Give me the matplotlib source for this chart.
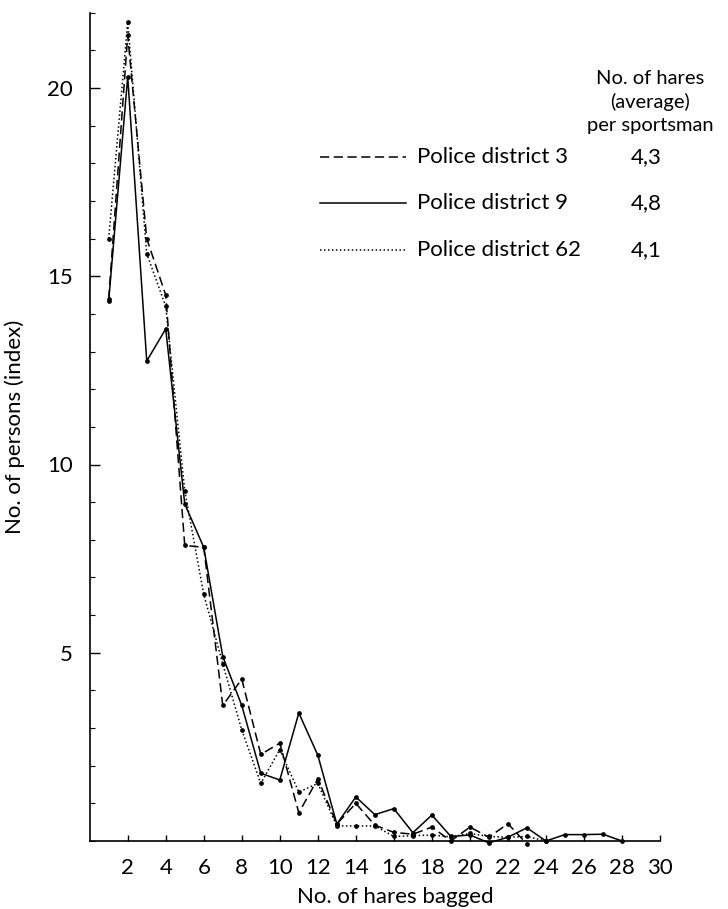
import numpy as np
import matplotlib.pyplot as plt
from matplotlib.lines import Line2D
from matplotlib.ticker import MultipleLocator

plt.rcParams['font.family'] = ['Lato', 'DejaVu Sans']

# Number of persons (index) by number of hares bagged
d3 = [14.4, 21.4, 16.0, 14.5, 7.85, 7.8, 3.6, 4.3, 2.3, 2.6, 0.75, 1.65, 0.45,
      1.0, 0.42, 0.23, 0.18, 0.37, 0.0, 0.37, 0.1, 0.46, -0.08]
d9 = [14.35, 20.3, 12.75, 13.6, 8.95, 7.8, 4.9, 3.6, 1.8, 1.62, 3.4, 2.28, 0.45,
      1.17, 0.7, 0.86, 0.22, 0.69, 0.12, 0.16, -0.05, 0.1, 0.35, 0.0, 0.17,
      0.17, 0.18, 0.0]
d62 = [16.0, 21.75, 15.6, 14.2, 9.3, 6.55, 4.7, 2.95, 1.53, 2.43, 1.3, 1.53, 0.4,
       0.4, 0.4, 0.12, 0.14, 0.16, 0.11, 0.2, 0.12, 0.1, 0.12, 0.0]

districts = ['Police district 3', 'Police district 9', 'Police district 62']
averages = ['4,3', '4,8', '4,1']
xticks = list(range(2, 31, 2))
yticks = [5, 10, 15, 20]

W, H = 728, 909
fig = plt.figure(figsize=(W / 100, H / 100), dpi=100)
ax = fig.add_axes([89.7 / W, 1 - 841 / H, (660 - 89.7) / W, (841 - 12.7) / H])

styles = [dict(linestyle=(0, (6, 3))), dict(linestyle='-'), dict(linestyle=(0, (1, 1.6)))]
series = [d3, d9, d62]
for vals, st in zip(series, styles):
    xs = np.arange(1, len(vals) + 1)
    ax.plot(xs, vals, color='black', lw=1.1, marker='o', markersize=2.4,
            clip_on=False, **st)

ax.set_xlim(0, 30)
ax.set_ylim(0, 22)
ax.spines['top'].set_visible(False)
ax.spines['right'].set_visible(False)
ax.spines['left'].set_linewidth(1.2)
ax.spines['bottom'].set_linewidth(1.2)

ax.set_xticks(xticks)
ax.set_xticklabels([str(t) for t in xticks])
ax.set_xticks([10, 20, 30], minor=True)
ax.set_yticks(yticks)
ax.set_yticklabels([str(t) for t in yticks])
ax.yaxis.set_minor_locator(MultipleLocator(1))
ax.tick_params(axis='both', which='major', direction='in', width=1,
               labelsize=16, pad=12)
ax.tick_params(axis='x', which='major', length=4)
ax.tick_params(axis='y', which='major', length=7)
ax.tick_params(axis='x', which='minor', direction='in', length=8, width=1.2)
ax.tick_params(axis='y', which='minor', direction='in', length=3.5, width=0.8)

ax.set_ylabel('No. of persons (index)', fontsize=16, labelpad=16)
fig.text(395 / W, 1 - 897 / H, 'No. of hares bagged', fontsize=16,
         ha='center', va='center')

# legend drawn by hand
fig.text(650 / W, 1 - 78 / H, 'No. of hares', fontsize=14.5, ha='center', va='center')
fig.text(650 / W, 1 - 102 / H, '(average)', fontsize=14.5, ha='center', va='center')
fig.text(650 / W, 1 - 126 / H, 'per sportsman', fontsize=14.5, ha='center', va='center')
rows = [157, 203, 250]
for name, avg, st, ry in zip(districts, averages, styles, rows):
    yy = 1 - ry / H
    fig.add_artist(Line2D([320 / W, 406 / W], [yy, yy], color='black', lw=1.1, **st))
    fig.text(417 / W, yy, name, fontsize=16, ha='left', va='center')
    fig.text(646 / W, yy, avg, fontsize=16, ha='center', va='center')

fig.savefig('out.png', dpi=100)
